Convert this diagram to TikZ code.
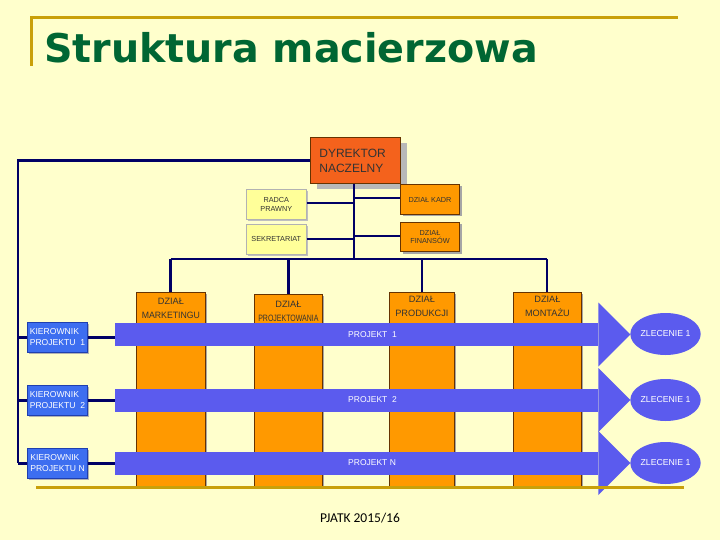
\documentclass[tikz,border=0pt]{standalone}
\usepackage{fontspec}
\setmainfont{Liberation Sans}
\newfontfamily\titlefont{DejaVu Sans}
\newfontfamily\footfont{Carlito}
\usetikzlibrary{shapes.geometric,shadows}
\definecolor{bgc}{HTML}{FFFFCC}
\definecolor{goldc}{HTML}{C9A00A}
\definecolor{titlec}{HTML}{006633}
\definecolor{navyc}{HTML}{000066}
\definecolor{dirc}{HTML}{F4621C}
\definecolor{orangec}{HTML}{FF9900}
\definecolor{brownc}{HTML}{663300}
\definecolor{barc}{HTML}{5B5BEE}
\definecolor{kierc}{HTML}{3D6EF0}
\definecolor{kierb}{HTML}{1F3FAF}
\definecolor{paleyc}{HTML}{FFFF99}
\definecolor{txtc}{HTML}{333333}
\begin{document}
\begin{tikzpicture}[x=1pt,y=-1pt,
  conn/.style={draw=navyc,line width=2.3pt},
  goldline/.style={draw=goldc,line width=3pt},
  colbox/.style={draw=brownc,line width=0.8pt,fill=orangec,inner sep=0pt,anchor=north west,
     drop shadow={shadow xshift=2pt,shadow yshift=-2pt,fill=black!35,opacity=1}},
  smallor/.style={draw=brownc,line width=1pt,fill=orangec,inner sep=0pt,anchor=north west,
     minimum width=59pt,align=center,font=\fontsize{7.3}{8.5}\selectfont,text=txtc,
     drop shadow={shadow xshift=2pt,shadow yshift=-2pt,fill=black!35,opacity=1}},
  paleybox/.style={draw=black!30,line width=0.6pt,fill=paleyc,inner sep=0pt,anchor=north west,
     minimum width=60pt,minimum height=30pt,align=center,font=\fontsize{7.3}{8.5}\selectfont,text=txtc,
     drop shadow={shadow xshift=2pt,shadow yshift=-2pt,fill=black!25,opacity=1}},
  collbl/.style={anchor=north,align=center,inner sep=0pt,font=\fontsize{9.2}{13.5}\selectfont,text=txtc},
  kier/.style={draw=kierb,line width=1pt,fill=kierc,inner sep=0pt,anchor=north west,
     minimum width=60pt,minimum height=30pt,align=left,text=white,font=\fontsize{8.6}{11}\selectfont,
     drop shadow={shadow xshift=1.5pt,shadow yshift=-1.5pt,fill=black!30,opacity=1}},
  bar/.style={fill=barc,inner sep=0pt,anchor=west,minimum width=483pt,minimum height=23pt},
  barlbl/.style={anchor=west,inner sep=0pt,text=white,font=\fontsize{8.5}{10}\selectfont},
  zl/.style={ellipse,fill=barc,inner sep=0pt,minimum width=69pt,minimum height=42pt,
     text=white,font=\fontsize{8.7}{10}\selectfont}
]
\useasboundingbox (0,0) rectangle (720,540);
\fill[bgc] (0,0) rectangle (720,540);

% header
\draw[goldline] (30,17.5) -- (678,17.5);
\draw[goldline] (31.5,16) -- (31.5,66);
\node[anchor=base west,inner sep=0pt,text=titlec,font=\titlefont\bfseries\fontsize{39.6}{42}\selectfont] (title) at (44,63) {Struktura macierzowa};

% columns (behind bars)
\node[colbox,minimum width=69pt,minimum height=194pt] (mkt) at (136,292) {};
\node[colbox,minimum width=68pt,minimum height=193pt] (prj) at (254,294) {};
\node[colbox,minimum width=65pt,minimum height=194pt] (prd) at (389,292) {};
\node[colbox,minimum width=68pt,minimum height=194pt] (mnt) at (513,292) {};
\node[collbl] (mktl) at ([yshift=-6pt]mkt.north) {DZIAŁ\\\scalebox{0.95}[1]{MARKETINGU}};
\node[collbl] (prjl) at ([yshift=-7pt]prj.north) {DZIAŁ\\\scalebox{0.76}[1]{PROJEKTOWANIA}};
\node[collbl] (prdl) at ([yshift=-4pt]prd.north) {DZIAŁ\\PRODUKCJI};
\node[collbl] (mntl) at ([yshift=-4pt]mnt.north) {DZIAŁ\\MONTAŻU};

% director and staff
\node[draw=brownc,line width=0.8pt,fill=dirc,inner ysep=0pt,inner xsep=9pt,text width=72pt,
      minimum height=46pt,align=left,anchor=north west,text=txtc,font=\fontsize{12}{15}\selectfont,
      drop shadow={shadow xshift=7pt,shadow yshift=-6pt,fill=black!28,opacity=1}] (dyr) at (310,137) {DYREKTOR\\NACZELNY};
\node[paleybox] (radca) at (246,189) {RADCA\\PRAWNY};
\node[paleybox] (sekr) at (246,224) {SEKRETARIAT};
\node[smallor,minimum height=30pt] (kadr) at (400,184) {DZIAŁ KADR};
\node[smallor,minimum height=29pt] (fin) at (400,222) {DZIAŁ\\FINANSÓW};

\coordinate (trunk) at (354,259);
\coordinate (bus1) at (170.5,259);
\coordinate (bus2) at (547,259);
\draw[conn] (dyr.south -| trunk) -- (trunk);
\draw[conn] (radca.east |- 0,203) -- (trunk |- 0,203);
\draw[conn] (sekr.east |- 0,239) -- (trunk |- 0,239);
\draw[conn] (trunk |- 0,198) -- (kadr.west |- 0,198);
\draw[conn] (trunk |- 0,236) -- (fin.west |- 0,236);
\draw[conn] (bus1) -- (bus2);
\draw[conn] (bus1) -- (mkt.north -| bus1);
\draw[conn] (prj.north |- trunk) -- (prj.north);
\draw[conn] (prd.north |- trunk) -- (prd.north);
\draw[conn] (bus2) -- (mnt.north -| bus2);

% project bars
\node[bar] (b1) at (115,334.5) {};
\node[bar] (b2) at (115,400) {};
\node[bar] (b3) at (115,463) {};
\foreach \b in {b1,b2,b3}{
  \fill[barc] ([yshift=32pt]\b.east) -- ([xshift=32pt]\b.east) -- ([yshift=-32pt]\b.east) -- cycle;
}
\node[barlbl] (p1) at (348,334.5) {PROJEKT\ \ 1};
\node[barlbl] (p2) at (348,400) {PROJEKT\ \ 2};
\node[barlbl] (p3) at (348,463) {PROJEKT N};

\node[zl] (z1) at (665.5,334) {ZLECENIE 1};
\node[zl] (z2) at (665.5,400) {ZLECENIE 1};
\node[zl] (z3) at (665.5,463) {ZLECENIE 1};

% project managers
\node[kier] (k1) at (27,322) {KIEROWNIK\\PROJEKTU\ \ 1};
\node[kier] (k2) at (27,385) {KIEROWNIK\\PROJEKTU\ \ 2};
\node[kier] (k3) at (27,448) {KIEROWNIK\\PROJEKTU N};

\coordinate (left) at (18,463);
\draw[conn] (dyr.west) -| (left);
\draw[conn] (k1.west -| left) -- (k1.west);
\draw[conn] (k2.west -| left) -- (k2.west);
\draw[conn] (k3.west -| left) -- (k3.west);
\draw[conn] (k1.east) -- (k1.east -| b1.west);
\draw[conn] (k2.east) -- (k2.east -| b2.west);
\draw[conn] (k3.east) -- (k3.east -| b3.west);

% footer
\draw[goldline] (36,487.5) -- (684,487.5);
\node[inner sep=0pt,font=\footfont\fontsize{13.5}{15}\selectfont] (foot) at (360,518) {PJATK 2015/16};
\end{tikzpicture}
\end{document}
